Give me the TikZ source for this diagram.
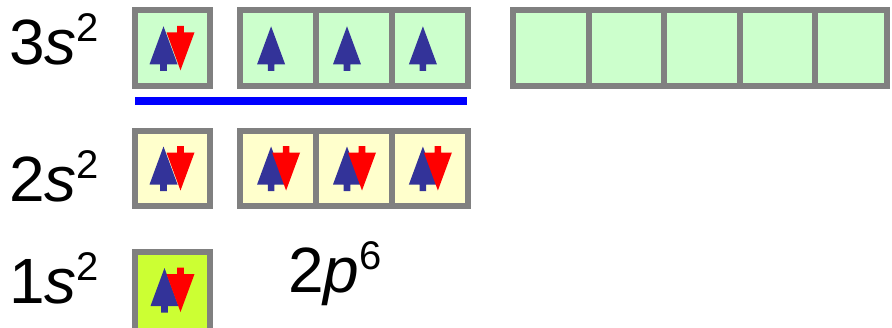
\documentclass[tikz,border=0pt]{standalone}
\usepackage{fontspec}
\setmainfont{Liberation Sans}
\definecolor{bordergray}{HTML}{808080}
\definecolor{fillgreen}{HTML}{CCFFCC}
\definecolor{fillyellow}{HTML}{FFFFCC}
\definecolor{filllime}{HTML}{CCFF33}
\definecolor{upblue}{HTML}{333399}
\definecolor{downred}{HTML}{FF0000}
\definecolor{lineblue}{HTML}{0000FF}
\tikzset{
  cell/.style={draw=bordergray, line width=6pt, inner sep=0pt, minimum height=76pt},
  greencell/.style={cell, fill=fillgreen},
  yellowcell/.style={cell, fill=fillyellow},
  limecell/.style={cell, fill=filllime},
  lbl/.style={inner sep=0pt, anchor=base west, font=\fontsize{64}{64}\selectfont},
  uparr/.pic={\fill[upblue] (-14,16) -- (0,-22) -- (14,16) -- (3.3,16) -- (3.3,22.5) -- (-3.3,22.5) -- (-3.3,16) -- cycle;},
  downarr/.pic={\fill[downred] (-14,-16) -- (0,22) -- (14,-16) -- (3.3,-16) -- (3.3,-22.5) -- (-3.3,-22.5) -- (-3.3,-16) -- cycle;}
}
\newcommand{\supr}[1]{\raisebox{23pt}{\fontsize{40}{40}\selectfont #1}}
\begin{document}
\begin{tikzpicture}[x=1pt,y=-1pt]
\useasboundingbox (0,0) rectangle (892,327);
% labels
\node[lbl] (l3) at (9,64) {3\textit{s}\supr{2}};
\node[lbl] (l2) at (9,201) {2\textit{s}\supr{2}};
\node[lbl] (l1) at (9,303) {1\textit{s}\supr{2}};
\node[lbl] (l2p) at (288,292) {2\textit{p}\supr{6}};
% row 3
\node[greencell, minimum width=75.6pt] (s3) at (172.5,48.3) {};
\node[greencell, minimum width=75.7pt] (p3a) at (278.1,48.3) {};
\node[greencell, minimum width=76pt] (p3b) at (354,48.3) {};
\node[greencell, minimum width=75.7pt] (p3c) at (429.9,48.3) {};
\node[greencell, minimum width=75.5pt] (d3a) at (550.75,48.3) {};
\node[greencell, minimum width=75.5pt] (d3b) at (626.25,48.3) {};
\node[greencell, minimum width=75.5pt] (d3c) at (701.75,48.3) {};
\node[greencell, minimum width=75.5pt] (d3d) at (777.25,48.3) {};
\node[greencell, minimum width=72pt] (d3e) at (851,48.3) {};
% blue underline
\coordinate (ul1) at (135,101);
\coordinate (ul2) at (467,101);
\draw[lineblue, line width=8pt] (ul1) -- (ul2);
% row 2
\node[yellowcell, minimum width=75.6pt, minimum height=75pt] (s2) at (172.5,168.5) {};
\node[yellowcell, minimum width=75.7pt, minimum height=75pt] (p2a) at (278.1,168.5) {};
\node[yellowcell, minimum width=76pt, minimum height=75pt] (p2b) at (354,168.5) {};
\node[yellowcell, minimum width=75.7pt, minimum height=75pt] (p2c) at (429.9,168.5) {};
% row 1 (bottom border falls outside the picture)
\node[limecell, minimum width=75.6pt, minimum height=82pt] (s1) at (172.5,293) {};
% arrows
\path (s3.center) ++(-9,0) pic {uparr};
\path (s3.center) ++(8,0) pic {downarr};
\path (p3a.center) ++(-7,0) pic {uparr};
\path (p3b.center) ++(-7,0) pic {uparr};
\path (p3c.center) ++(-7,0) pic {uparr};
\path (s2.center) ++(-9,0) pic {uparr};
\path (s2.center) ++(8,0) pic {downarr};
\path (p2a.center) ++(-7,0) pic {uparr};
\path (p2a.center) ++(8,0) pic {downarr};
\path (p2b.center) ++(-7,0) pic {uparr};
\path (p2b.center) ++(8,0) pic {downarr};
\path (p2c.center) ++(-7,0) pic {uparr};
\path (p2c.center) ++(8,0) pic {downarr};
\path (s1.center) ++(-8,-3) pic {uparr};
\path (s1.center) ++(8,-3) pic {downarr};
\end{tikzpicture}
\end{document}
